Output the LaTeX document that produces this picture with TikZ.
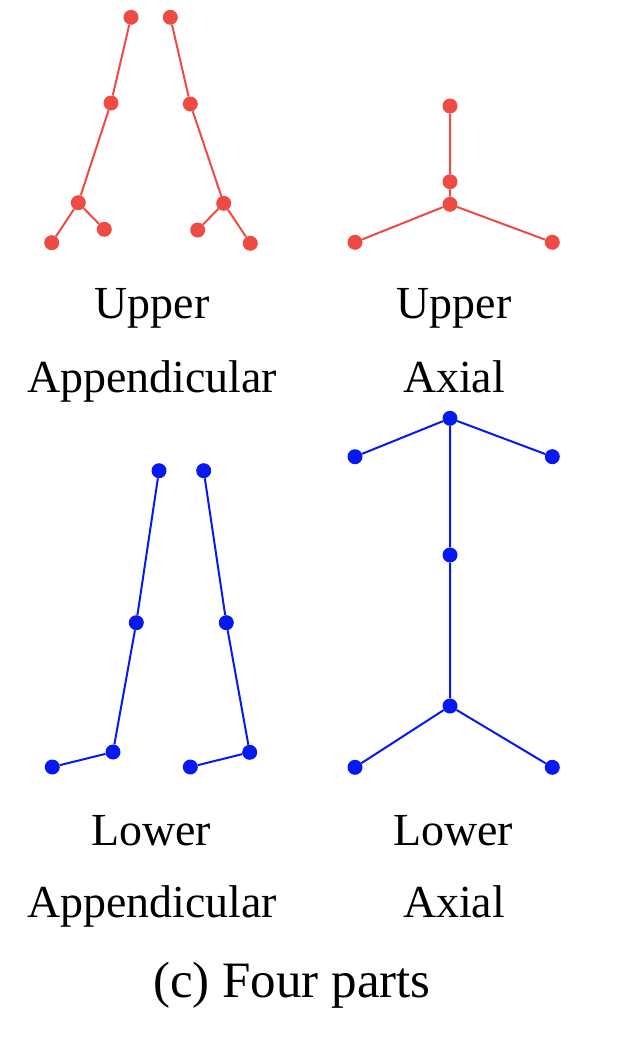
\documentclass[tikz,border=0pt]{standalone}
\usepackage{fontspec}
\setmainfont{Liberation Serif}
\definecolor{jred}{RGB}{238,75,68}
\definecolor{jblue}{RGB}{5,25,240}
\begin{document}
\begin{tikzpicture}[x=1pt,y=-1pt,
  jr/.style={circle,fill=jred,inner sep=0pt,minimum size=15pt},
  jb/.style={circle,fill=jblue,inner sep=0pt,minimum size=15pt},
  br/.style={draw=jred,line width=2pt},
  bb/.style={draw=jblue,line width=2pt},
  lbl/.style={anchor=base,inner sep=0pt,font=\fontsize{45.9pt}{55pt}\selectfont},
  captxt/.style={anchor=base,inner sep=0pt,font=\fontsize{51pt}{60pt}\selectfont}]
\useasboundingbox (0,0) rectangle (638,1044);
% Upper appendicular
\node[jr] (a1) at (131,17.3) {};
\node[jr] (a2) at (111,103) {};
\node[jr] (a3) at (78.3,202.7) {};
\node[jr] (a4) at (51.7,242.7) {};
\node[jr] (a5) at (104.3,229.3) {};
\node[jr] (b1) at (170.3,17.3) {};
\node[jr] (b2) at (190.3,104) {};
\node[jr] (b3) at (223.7,203.3) {};
\node[jr] (b4) at (197.7,230) {};
\node[jr] (b5) at (250.3,243.3) {};
\path[br] (a1) -- (a2) -- (a3) -- (a4) (a3) -- (a5);
\path[br] (b1) -- (b2) -- (b3) -- (b5) (b3) -- (b4);
% Upper axial
\node[jr] (c1) at (450,106) {};
\node[jr] (c2) at (450,181.7) {};
\node[jr] (c3) at (450,204.3) {};
\node[jr] (c4) at (355,242.3) {};
\node[jr] (c5) at (552.3,242.3) {};
\path[br] (c1) -- (c2) -- (c3) -- (c4) (c3) -- (c5);
% Lower appendicular
\node[jb] (d1) at (159,470.7) {};
\node[jb] (d2) at (136.3,622.7) {};
\node[jb] (d3) at (113,752) {};
\node[jb] (d4) at (52.3,767) {};
\node[jb] (e1) at (203.7,470.7) {};
\node[jb] (e2) at (226.3,622.7) {};
\node[jb] (e3) at (249.7,752.3) {};
\node[jb] (e4) at (190.3,767) {};
\path[bb] (d1) -- (d2) -- (d3) -- (d4);
\path[bb] (e1) -- (e2) -- (e3) -- (e4);
% Lower axial
\node[jb] (f1) at (450,418.3) {};
\node[jb] (f2) at (355,456.7) {};
\node[jb] (f3) at (552.3,456.7) {};
\node[jb] (f4) at (450,555) {};
\node[jb] (f5) at (450,706) {};
\node[jb] (f6) at (355,767.3) {};
\node[jb] (f7) at (552.3,767.3) {};
\path[bb] (f2) -- (f1) -- (f3) (f1) -- (f4) -- (f5) -- (f6) (f5) -- (f7);
% Labels
\node[lbl] (t1) at (152,318) {Upper};
\node[lbl] (t2) at (152,392) {Appendicular};
\node[lbl] (t3) at (454,318) {Upper};
\node[lbl] (t4) at (454,392) {Axial};
\node[lbl] (t5) at (151,845) {Lower};
\node[lbl] (t6) at (152,917) {Appendicular};
\node[lbl] (t7) at (453,845) {Lower};
\node[lbl] (t8) at (454,917) {Axial};
\node[captxt] (t9) at (292,997) {(c) Four parts};
\end{tikzpicture}
\end{document}
